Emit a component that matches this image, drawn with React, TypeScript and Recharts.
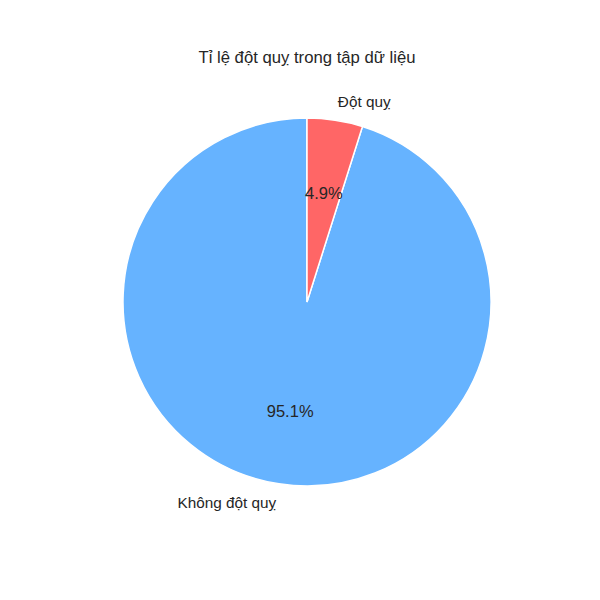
import { PieChart, Pie, Cell } from "recharts";

// stroke dataset: counts per class
const categories = ["Không đột quỵ", "Đột quỵ"];
const counts = [4861, 249];
const colors = ["#66b3ff", "#ff6666"];

const data = categories.map((name, i) => ({ name, value: counts[i] }));

const RAD = Math.PI / 180;
const FONT = "'Liberation Sans', Arial, sans-serif";

// matplotlib-style labels: name at 1.1r, percent at 0.6r
function renderLabel(props: any) {
  const { cx, cy, midAngle, outerRadius, percent, name } = props;
  const cos = Math.cos(-midAngle * RAD);
  const sin = Math.sin(-midAngle * RAD);
  const lx = cx + outerRadius * 1.1 * cos;
  const ly = cy + outerRadius * 1.1 * sin;
  const px = cx + outerRadius * 0.6 * cos;
  const py = cy + outerRadius * 0.6 * sin;
  return (
    <g>
      <text
        x={lx}
        y={ly}
        textAnchor={cos >= 0 ? "start" : "end"}
        dominantBaseline="central"
        fill="#262626"
        fontSize={15.3}
        fontFamily={FONT}
      >
        {name}
      </text>
      <text
        x={px}
        y={py}
        textAnchor="middle"
        dominantBaseline="central"
        fill="#262626"
        fontSize={16.5}
        fontFamily={FONT}
      >
        {(percent * 100).toFixed(1)}%
      </text>
    </g>
  );
}

export default function App() {
  return (
    <div style={{ position: "absolute", left: 0, top: 0, width: 600, height: 600, background: "#fff" }}>
      <div
        style={{
          position: "absolute",
          top: 48,
          left: 0,
          width: 614,
          textAlign: "center",
          fontFamily: FONT,
          fontSize: 16.7,
          color: "#262626",
        }}
      >
        Tỉ lệ đột quỵ trong tập dữ liệu
      </div>
      <PieChart width={600} height={600} margin={{ top: 0, right: 0, bottom: 0, left: 0 }}>
        <Pie
          data={data}
          dataKey="value"
          nameKey="name"
          cx={307}
          cy={302}
          outerRadius={184}
          startAngle={90}
          endAngle={450}
          stroke="#ffffff"
          strokeWidth={1.5}
          label={renderLabel}
          labelLine={false}
          isAnimationActive={false}
        >
          {data.map((d, i) => (
            <Cell key={d.name} fill={colors[i]} />
          ))}
        </Pie>
      </PieChart>
    </div>
  );
}
